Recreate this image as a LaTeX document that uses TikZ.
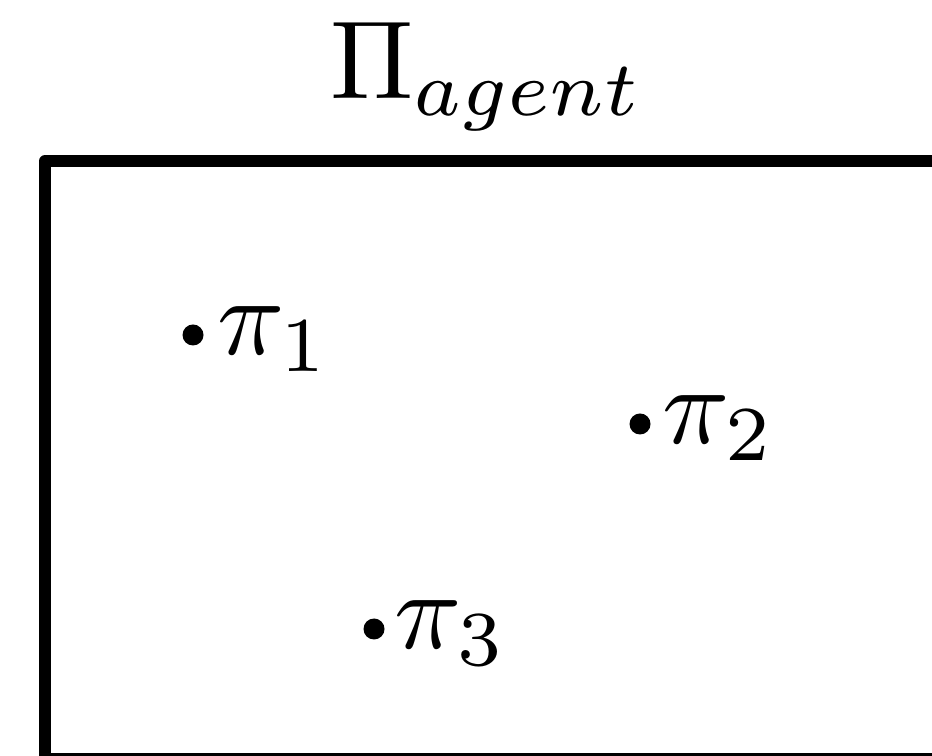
\documentclass[tikz,border=0pt]{standalone}
\begin{document}
\begin{tikzpicture}[x=0.09pt,y=-0.09pt,
  dotpt/.style={circle,fill=black,inner sep=0pt,minimum size=21*0.09pt},
  lbl/.style={anchor=base west,inner sep=0pt,outer sep=0pt},
  frame/.style={draw=black,line width=11.7*0.09pt,line join=round}]
\useasboundingbox (0,0) rectangle (932,756);
\clip (0,0) rectangle (932,756);
\node[lbl] (title) at (330,99) {$\Pi_{agent}$};
\draw[frame] (45,161) rectangle (1000,758.5);
\node[dotpt] (d1) at (193,335) {};
\node[lbl] (p1) at (217,355) {$\pi_1$};
\node[dotpt] (d2) at (640,424) {};
\node[lbl] (p2) at (662,444) {$\pi_2$};
\node[dotpt] (d3) at (374,629) {};
\node[lbl] (p3) at (394,649) {$\pi_3$};
\end{tikzpicture}
\end{document}
